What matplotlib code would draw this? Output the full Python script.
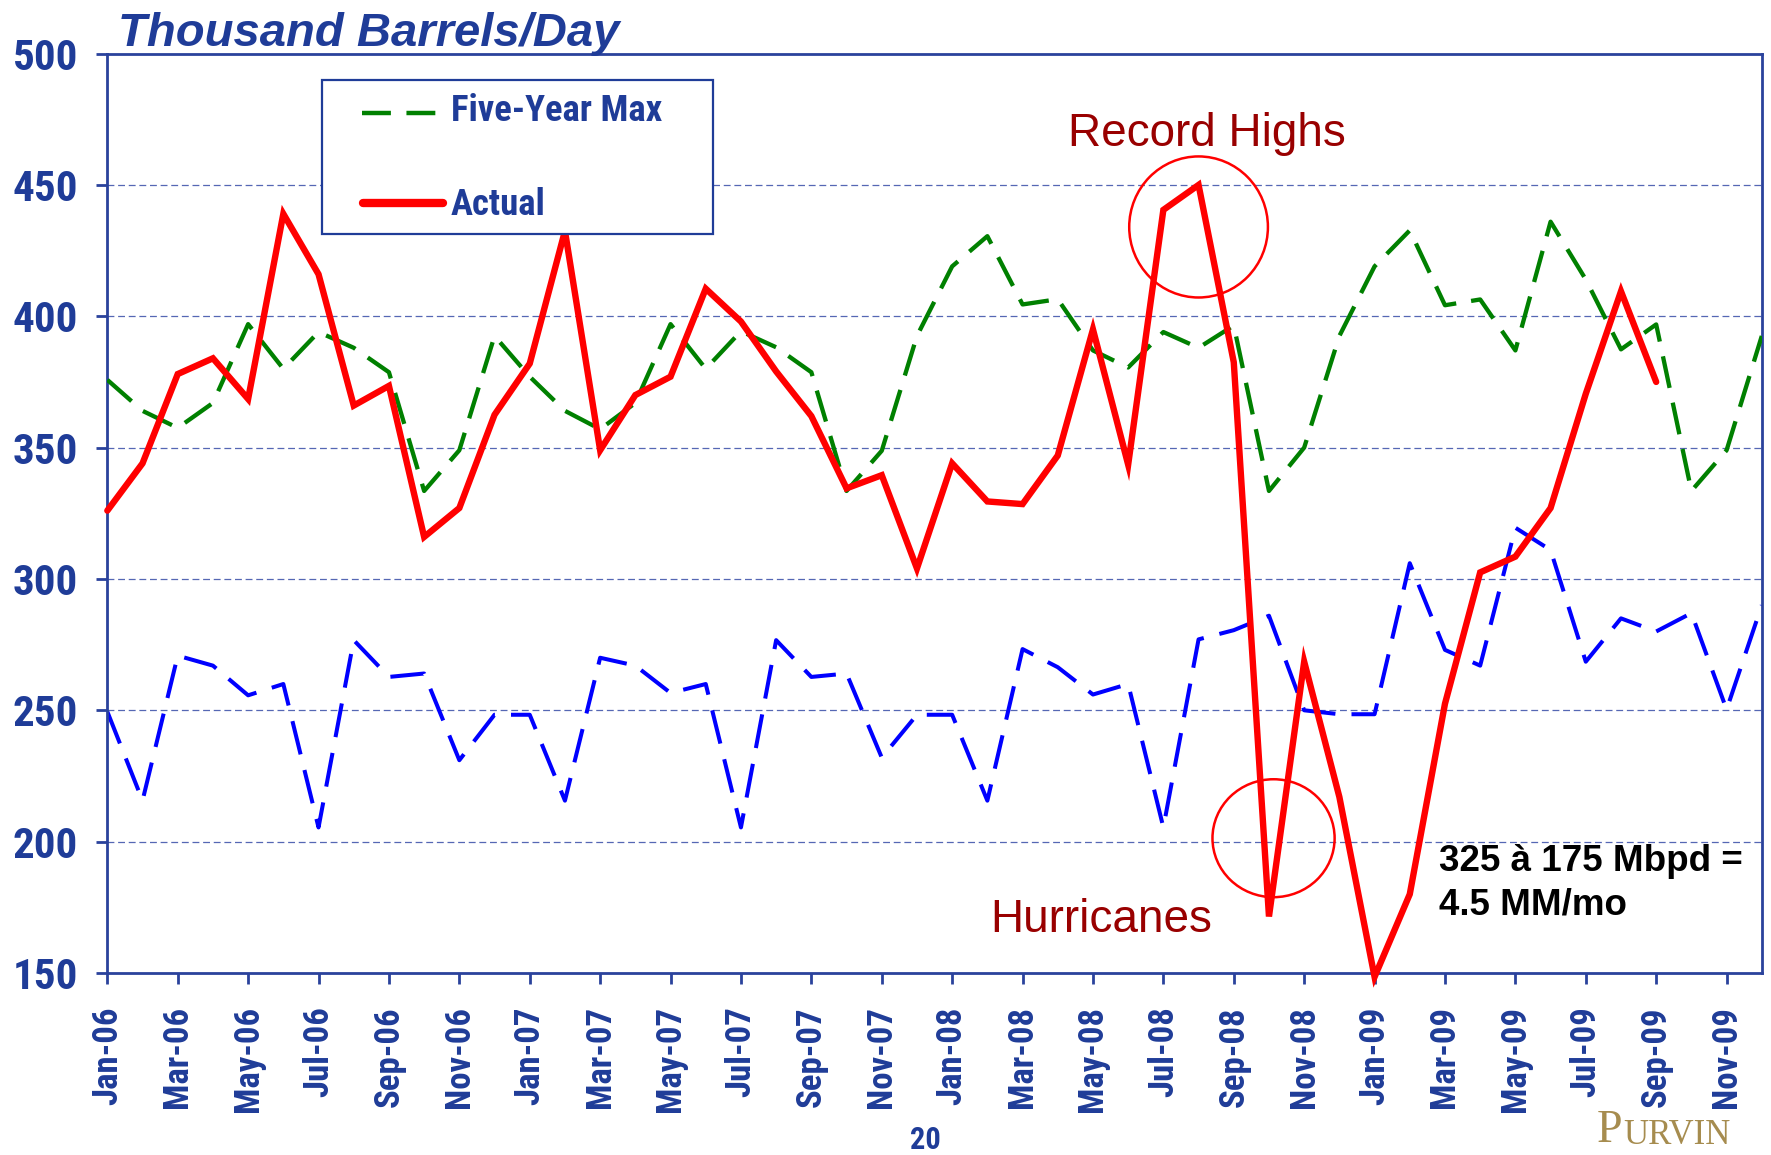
import matplotlib
matplotlib.use("Agg")
import matplotlib.pyplot as plt
from matplotlib import font_manager
from matplotlib.patches import Ellipse, Rectangle
from matplotlib.lines import Line2D

# ── Data: monthly, Jan-06 .. Dec-09 (Thousand Barrels/Day) ──────
ACTUAL = [
    326, 344, 378, 384, 368.5, 439, 416, 366, 373.5, 316, 327, 362.5,      # 2006
    382, 432.5, 349, 370, 377, 410.5, 398, 379, 362, 334.5, 339.5, 304,    # 2007
    344, 329.5, 328.5, 347, 395, 343.5, 440.5, 450, 382.5, 171.5, 268.5, 217,  # 2008
    148.5, 180, 252.5, 302.5, 308.5, 327, 370.5, 409.5, 375,               # 2009 (to Sep)
]
FIVE_YEAR_MAX = [
    375.8, 364, 357.5, 367, 397, 380, 394, 388, 378.7, 333.5, 349, 392.5,
    377, 364, 357, 367, 397, 380, 394.3, 388.2, 378.7, 333.5, 348.8, 392.5,
    419, 430.5, 404.5, 406.5, 387, 380.5, 394, 388, 396.5, 333.5, 350, 392.5,
    419, 432.7, 404.2, 406.4, 387, 436, 414, 387.4, 396.9, 333.5, 349, 392.5,
]
FIVE_YEAR_MIN = [
    249.5, 215.6, 270.8, 267, 255.7, 260, 205.4, 276.7, 262.7, 264, 231, 248.3,
    248.3, 215.6, 270, 267, 256.6, 260, 205.4, 276.7, 262.7, 264, 232, 248.3,
    248.3, 215.6, 273.3, 266.4, 256, 260, 205.4, 277, 280.5, 286, 250, 248.5,
    248.5, 306, 273, 267, 319.5, 311, 268.5, 285, 280, 287, 250.3, 290,
]
TICK_LABELS = [
    "Jan-06", "Mar-06", "May-06", "Jul-06", "Sep-06", "Nov-06",
    "Jan-07", "Mar-07", "May-07", "Jul-07", "Sep-07", "Nov-07",
    "Jan-08", "Mar-08", "May-08", "Jul-08", "Sep-08", "Nov-08",
    "Jan-09", "Mar-09", "May-09", "Jul-09", "Sep-09", "Nov-09",
]
Y_TICKS = [150, 200, 250, 300, 350, 400, 450, 500]
GRID_Y  = [200, 250, 300, 350, 400, 450]

# ── Style ───────────────────────────────────────────────────────
NAVY     = "#1f3c98"
SPINE    = "#2a429c"
GRIDCLR  = "#5567b4"
RED      = "#ff0000"
GREEN    = "#008000"
BLUE     = "#0000ff"
DARK_RED = "#990000"
GOLD     = "#a68c4f"


def pick_narrow():
    """Find a condensed bold face; fall back to a smaller regular one."""
    fl = font_manager.fontManager.ttflist
    names = {f.name for f in fl}
    for fam in ["Liberation Sans Narrow", "Roboto Condensed",
                "Open Sans Condensed", "Arial Narrow"]:
        if fam in names:
            return dict(family=fam), 1.0
    for fam in ["Roboto", "Noto Sans", "Open Sans", "DejaVu Sans"]:
        for f in fl:
            if f.name == fam and f.stretch in ("condensed", "semi-condensed",
                                               "extra-condensed"):
                return dict(family=fam, fontstretch=f.stretch), 1.0
    return dict(family="Liberation Sans"), 0.9


NKW, NS = pick_narrow()

plt.rcParams["font.family"] = ["Liberation Sans", "DejaVu Sans"]

fig = plt.figure(figsize=(17.71, 11.55), dpi=100)
fig.patch.set_facecolor("white")
ax = fig.add_axes([0.0606, 0.1576, 0.9342, 0.7960])

x_act = list(range(len(ACTUAL)))
x_all = list(range(len(FIVE_YEAR_MAX)))

# grid lines
for g in GRID_Y:
    ax.axhline(g, color=GRIDCLR, linewidth=0.9, linestyle=(0, (5.5, 3)), zorder=1)

ax.plot(x_all, FIVE_YEAR_MIN, color=BLUE, linewidth=2.9,
        linestyle=(0, (8.5, 4)), zorder=2)
ax.plot(x_all, FIVE_YEAR_MAX, color=GREEN, linewidth=3.1,
        linestyle=(0, (7.5, 3.5)), zorder=3)
ax.plot(x_act, ACTUAL, color=RED, linewidth=4.6, solid_capstyle="round",
        solid_joinstyle="miter", zorder=4, clip_on=False)

# callout ellipses
ax.add_patch(Ellipse((31.0, 434), 3.94, 53.7, fill=False,
                     edgecolor=RED, linewidth=1.8, zorder=5))
ax.add_patch(Ellipse((33.13, 201.3), 3.47, 44.9, fill=False,
                     edgecolor=RED, linewidth=1.8, zorder=5))

ax.text(31.24, 469.2, "Record Highs", color=DARK_RED, fontsize=33,
        ha="center", va="center")
ax.text(28.23, 170.0, "Hurricanes", color=DARK_RED, fontsize=33,
        ha="center", va="center")
ax.text(37.84, 192.6, "325 à 175 Mbpd =", color="black", fontsize=26.5,
        fontweight="bold", ha="left", va="center")
ax.text(37.84, 175.7, "4.5 MM/mo", color="black", fontsize=26.5,
        fontweight="bold", ha="left", va="center")

# axes limits / ticks
ax.set_xlim(0, 47)
ax.set_ylim(150, 500)
ax.set_yticks(Y_TICKS)
ax.set_yticklabels([str(v) for v in Y_TICKS], fontweight="bold",
                   fontsize=31 * NS, color=NAVY, **NKW)
ax.set_xticks(list(range(0, 48, 2)))
ax.set_xticklabels(TICK_LABELS, fontweight="bold", fontsize=25 * NS,
                   color=NAVY, rotation=90, **NKW)
ax.tick_params(axis="both", direction="out", length=8, width=2, color=SPINE)
ax.tick_params(axis="y", pad=13)
ax.tick_params(axis="x", pad=16)
for s in ax.spines.values():
    s.set_color(SPINE)
    s.set_linewidth(2)

# legend box (drawn by hand to match the spacing)
ax.add_patch(Rectangle((0.1295, 0.804), 0.2365, 0.167, transform=ax.transAxes,
                       fill=True, facecolor="white", edgecolor=NAVY,
                       linewidth=1.6, zorder=6))
ax.add_line(Line2D([0.1538, 0.1989], [0.9355, 0.9355], transform=ax.transAxes,
                   color=GREEN, linewidth=3.2, linestyle=(0, (6.5, 3.5)), zorder=7))
ax.add_line(Line2D([0.1545, 0.2030], [0.8377, 0.8377], transform=ax.transAxes,
                   color=RED, linewidth=6, solid_capstyle="round", zorder=7))
ax.text(0.2075, 0.9376, "Five-Year Max", transform=ax.transAxes,
        fontweight="bold", fontsize=26.5 * NS, color=NAVY, va="center",
        zorder=7, **NKW)
ax.text(0.2075, 0.8357, "Actual", transform=ax.transAxes,
        fontweight="bold", fontsize=26.5 * NS, color=NAVY, va="center",
        zorder=7, **NKW)

# title, page number, logo
fig.text(0.0665, 1 - 45.5 / 1155, "Thousand Barrels/Day", fontsize=34,
         fontweight="bold", fontstyle="italic", color=NAVY, va="baseline")
fig.text(925 / 1771, 1 - 1140 / 1155, "20", fontweight="bold",
         fontsize=22 * NS, color=NAVY, ha="center", va="center", **NKW)
fig.text(1597 / 1771, 3 / 1155, "P", family="Liberation Serif",
         fontsize=33, color=GOLD, va="bottom")
fig.text(1623 / 1771, 3 / 1155, "URVIN", family="Liberation Serif",
         fontsize=25, color=GOLD, va="bottom")

fig.savefig("out.png", dpi=100, facecolor="white")
